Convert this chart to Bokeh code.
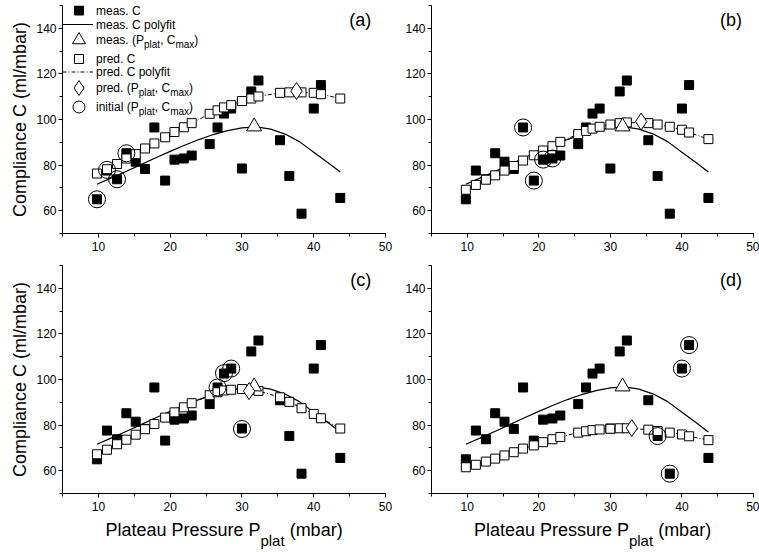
from bokeh.plotting import figure
from bokeh.layouts import column, row
from bokeh.models import Label, SingleIntervalTicker, Range1d
from bokeh.embed import file_html
from bokeh.resources import INLINE

FONT = "Liberation Sans"

# ---------------- data ----------------
P_plat = [9.8, 11.2, 12.6, 13.9, 15.2, 16.5, 17.8, 19.3, 20.6, 21.9, 23.0, 25.5,
          26.6, 27.5, 28.5, 30.0, 31.3, 32.3, 35.3, 36.6, 38.3, 40.0, 41.0, 43.7]
meas_C = [65.0, 77.6, 73.8, 85.2, 81.5, 78.3, 96.5, 73.2, 82.4, 82.9, 84.2, 89.2,
          96.5, 102.6, 104.8, 78.5, 112.3, 117.1, 90.9, 75.2, 58.7, 104.8, 115.1, 65.6]

fit_P = [9.8, 12, 14, 16, 18, 20, 22, 24, 26, 28, 30, 32, 34, 36, 38, 40, 42, 43.7]
fit_C = [71.6, 74.6, 77.4, 80.3, 83.2, 86.0, 88.7, 91.2, 93.4, 95.1, 96.3, 96.8,
         95.8, 93.6, 90.3, 85.6, 81.0, 77.0]

meas_peak_P = [31.7]
meas_peak_C = [96.9]

pred_C_a = [76.3, 78.2, 80.5, 82.9, 84.8, 87.3, 89.5, 92.2, 94.5, 96.6, 98.4, 102.5,
            104.0, 105.3, 106.3, 108.1, 109.2, 110.1, 111.7, 111.9, 111.9, 111.7, 111.1, 109.2]
pred_C_b = [69.2, 71.3, 73.6, 75.5, 77.6, 79.6, 82.0, 84.3, 86.4, 88.3, 90.2, 93.6,
            95.0, 96.0, 96.8, 97.8, 98.4, 98.7, 98.4, 97.8, 96.8, 95.5, 94.3, 91.4]
pred_C_c = [67.2, 69.2, 71.6, 73.6, 75.8, 78.2, 80.5, 83.3, 85.6, 87.8, 89.6, 93.1,
            94.4, 95.2, 95.5, 95.8, 95.5, 95.0, 92.2, 90.2, 87.4, 84.9, 83.0, 78.5]
pred_C_d = [61.5, 62.6, 64.0, 65.3, 66.7, 68.1, 69.7, 71.1, 72.5, 73.8, 74.8, 76.7,
            77.3, 77.8, 78.1, 78.4, 78.6, 78.6, 78.0, 77.4, 76.7, 75.9, 75.1, 73.4]

pred_peak_a = ([37.6], [112.5])
pred_peak_b = ([34.3], [99.1])
pred_peak_c = ([31.0], [94.9])
pred_peak_d = ([33.0], [78.7])

init_a = ([9.8, 11.2, 12.6, 13.9], [65.0, 77.9, 73.8, 85.2])
init_b = ([17.8, 19.3, 20.6, 21.9], [96.5, 73.2, 82.4, 82.9])
init_c = ([26.6, 27.5, 28.5, 30.0], [96.5, 102.8, 104.8, 78.3])
init_d = ([36.6, 38.3, 40.0, 41.0], [75.2, 58.7, 104.8, 115.1])

panel_tags = ["(a)", "(b)", "(c)", "(d)"]
x_tick_step = 10
y_tick_step = 20
x_label_parts = [("Plateau Pressure P", False), ("plat", True), (" (mbar)", False)]
y_label = "Compliance C (ml/mbar)"

legend_rows = [
    ("sq_fill", [("meas. C", False)]),
    ("line", [("meas. C polyfit", False)]),
    ("triangle", [("meas. (P", False), ("plat", True), (", C", False), ("max", True), (")", False)]),
    ("sq_open", [("pred. C", False)]),
    ("dashdot", [("pred. C polyfit", False)]),
    ("diamond", [("pred. (P", False), ("plat", True), (", C", False), ("max", True), (")", False)]),
    ("circle", [("initial (P", False), ("plat", True), (", C", False), ("max", True), (")", False)]),
]

# ---------------- layout helpers ----------------
FRAME_H = 228
LEFT_W, RIGHT_W = 402, 357
LEFT_MB = (62, 17)   # min_border left/right of left column
RIGHT_MB = (29, 6)   # min_border left/right of right column

WID = {' ': 278, '(': 333, ')': 333, ',': 278, '.': 278, '/': 278, 'a': 556, 'b': 556,
       'c': 500, 'd': 556, 'e': 556, 'f': 278, 'i': 222, 'l': 222, 'm': 833, 'n': 556,
       'o': 556, 'p': 556, 'r': 333, 's': 500, 't': 278, 'u': 556, 'x': 500, 'y': 500,
       'C': 722, 'P': 667}


def tw(s, size):
    return sum(WID.get(ch, 556) for ch in s) * size / 1000.0


def rich(p, x, y, parts, size, subsize, sub_dy, center=False, baseline="middle"):
    total = sum(tw(t, subsize if s else size) for t, s in parts)
    off = -(total / 2.0) if center else 0.0
    for t, s in parts:
        fs = subsize if s else size
        lead = len(t) - len(t.lstrip(" "))
        off += tw(" " * lead, fs)
        t2 = t.lstrip(" ")
        p.add_layout(Label(x=x, y=y, x_offset=off, y_offset=-(sub_dy if s else 0),
                           text=t2, text_font=FONT, text_font_size=f"{fs}px",
                           text_baseline=baseline, text_align="left", text_color="black"))
        off += tw(t2, fs)


def make_panel(tag, pred, pk, ini, left, top):
    w = LEFT_W if left else RIGHT_W
    h = 260 if top else 258
    mbl, mbr = LEFT_MB if left else RIGHT_MB
    mbt = 5
    mbb = h - mbt - FRAME_H
    p = figure(width=w, height=h, x_range=Range1d(5, 50), y_range=Range1d(50, 150),
               output_backend="svg", toolbar_location=None,
               min_border_left=mbl, min_border_right=mbr, min_border_top=mbt,
               min_border_bottom=mbb)
    p.xgrid.visible = False
    p.ygrid.visible = False
    p.outline_line_color = None
    p.background_fill_color = "white"
    p.border_fill_color = "white"
    p.xaxis.ticker = SingleIntervalTicker(interval=x_tick_step, num_minor_ticks=2)
    p.yaxis.ticker = SingleIntervalTicker(interval=y_tick_step, num_minor_ticks=2)
    for ax in (p.xaxis[0], p.yaxis[0]):
        ax.axis_line_color = "black"
        ax.axis_line_width = 1
        ax.major_tick_line_color = "black"
        ax.minor_tick_line_color = "black"
        ax.major_tick_in = 0
        ax.major_tick_out = 4
        ax.minor_tick_in = 0
        ax.minor_tick_out = 3
        ax.major_label_text_font = FONT
        ax.major_label_text_font_size = "12px"
        ax.major_label_text_color = "black"
    p.xaxis.major_label_standoff = 4
    p.yaxis.major_label_standoff = 2
    if left:
        p.yaxis.axis_label = y_label
        p.yaxis.axis_label_text_font = FONT
        p.yaxis.axis_label_text_font_size = "18px"
        p.yaxis.axis_label_text_font_style = "normal"
        p.yaxis.axis_label_text_color = "black"
        p.yaxis.axis_label_standoff = 3

    px_per_y = FRAME_H / 100.0
    px_per_x = (w - mbl - mbr) / 45.0

    # data marks
    p.line(fit_P, fit_C, line_color="black", line_width=1.2)
    p.line(P_plat, pred, line_color="black", line_width=1, line_dash="4 2 1 2")
    p.scatter(P_plat, meas_C, marker="square", size=9, fill_color="black", line_color="black")
    p.scatter(P_plat, pred, marker="square", size=9, fill_color="white", line_color="black",
              line_width=1)
    p.scatter(meas_peak_P, meas_peak_C, marker="triangle", size=15, fill_color="white",
              line_color="black", line_width=1)
    p.scatter(pk[0], pk[1], marker="diamond", size=17, fill_color="white", line_color="black",
              line_width=1)
    p.scatter(ini[0], ini[1], marker="circle", size=17, fill_color=None, line_color="black",
              line_width=1)

    # panel tag
    tag_x = 48.0 if left else 48.4
    p.add_layout(Label(x=tag_x, y=150, y_offset=-14.5, text=tag, text_font=FONT,
                       text_font_size="18px", text_align="right", text_baseline="middle",
                       text_color="black"))

    # legend in panel (a)
    if tag == "(a)":
        row_px = [5.0, 19.0, 34.5, 53.5, 66.5, 82.5, 101.5]
        mk_x = 5 + 16.5 / px_per_x
        tx_x = 5 + 33.5 / px_per_x
        ln_end = 5 + 30.5 / px_per_x
        for (kind, parts), dy in zip(legend_rows, row_px):
            yy = 150 - dy / px_per_y
            if kind == "sq_fill":
                p.scatter([mk_x], [yy], marker="square", size=9, fill_color="black", line_color="black")
            elif kind == "sq_open":
                p.scatter([mk_x], [yy], marker="square", size=9, fill_color="white", line_color="black")
            elif kind == "triangle":
                p.scatter([mk_x], [yy], marker="triangle", size=13, fill_color="white", line_color="black")
            elif kind == "diamond":
                p.scatter([mk_x], [yy], marker="diamond", size=15, fill_color="white", line_color="black")
            elif kind == "circle":
                p.scatter([mk_x], [yy], marker="circle", size=12, fill_color=None, line_color="black")
            elif kind == "line":
                p.line([5.0, ln_end], [yy, yy], line_color="black", line_width=1)
            elif kind == "dashdot":
                p.line([5.0, ln_end], [yy, yy], line_color="black", line_width=1,
                       line_dash="4 2 1 2")
            rich(p, tx_x, yy, parts, 12, 10, 4.5)
    return p


def make_xlabel(left):
    w = LEFT_W if left else RIGHT_W
    mbl, mbr = LEFT_MB if left else RIGHT_MB
    p = figure(width=w, height=34, x_range=Range1d(5, 50), y_range=Range1d(0, 34),
               output_backend="svg", toolbar_location=None,
               x_axis_location=None, y_axis_location=None,
               min_border_left=mbl, min_border_right=mbr, min_border_top=0,
               min_border_bottom=0)
    p.xgrid.visible = False
    p.ygrid.visible = False
    p.outline_line_color = None
    p.background_fill_color = "white"
    p.border_fill_color = "white"
    # main text baseline at y=23 (px from bottom), subscript baseline 11 px lower
    rich(p, 27.5, 23, x_label_parts, 18, 15, 11, center=True, baseline="alphabetic")
    return p


pa = make_panel(panel_tags[0], pred_C_a, pred_peak_a, init_a, True, True)
pb = make_panel(panel_tags[1], pred_C_b, pred_peak_b, init_b, False, True)
pc = make_panel(panel_tags[2], pred_C_c, pred_peak_c, init_c, True, False)
pd = make_panel(panel_tags[3], pred_C_d, pred_peak_d, init_d, False, False)
lc = make_xlabel(True)
ld = make_xlabel(False)

layout = column(row(pa, pb), row(pc, pd), row(lc, ld))

open("out.html", "w").write(file_html(layout, INLINE))
